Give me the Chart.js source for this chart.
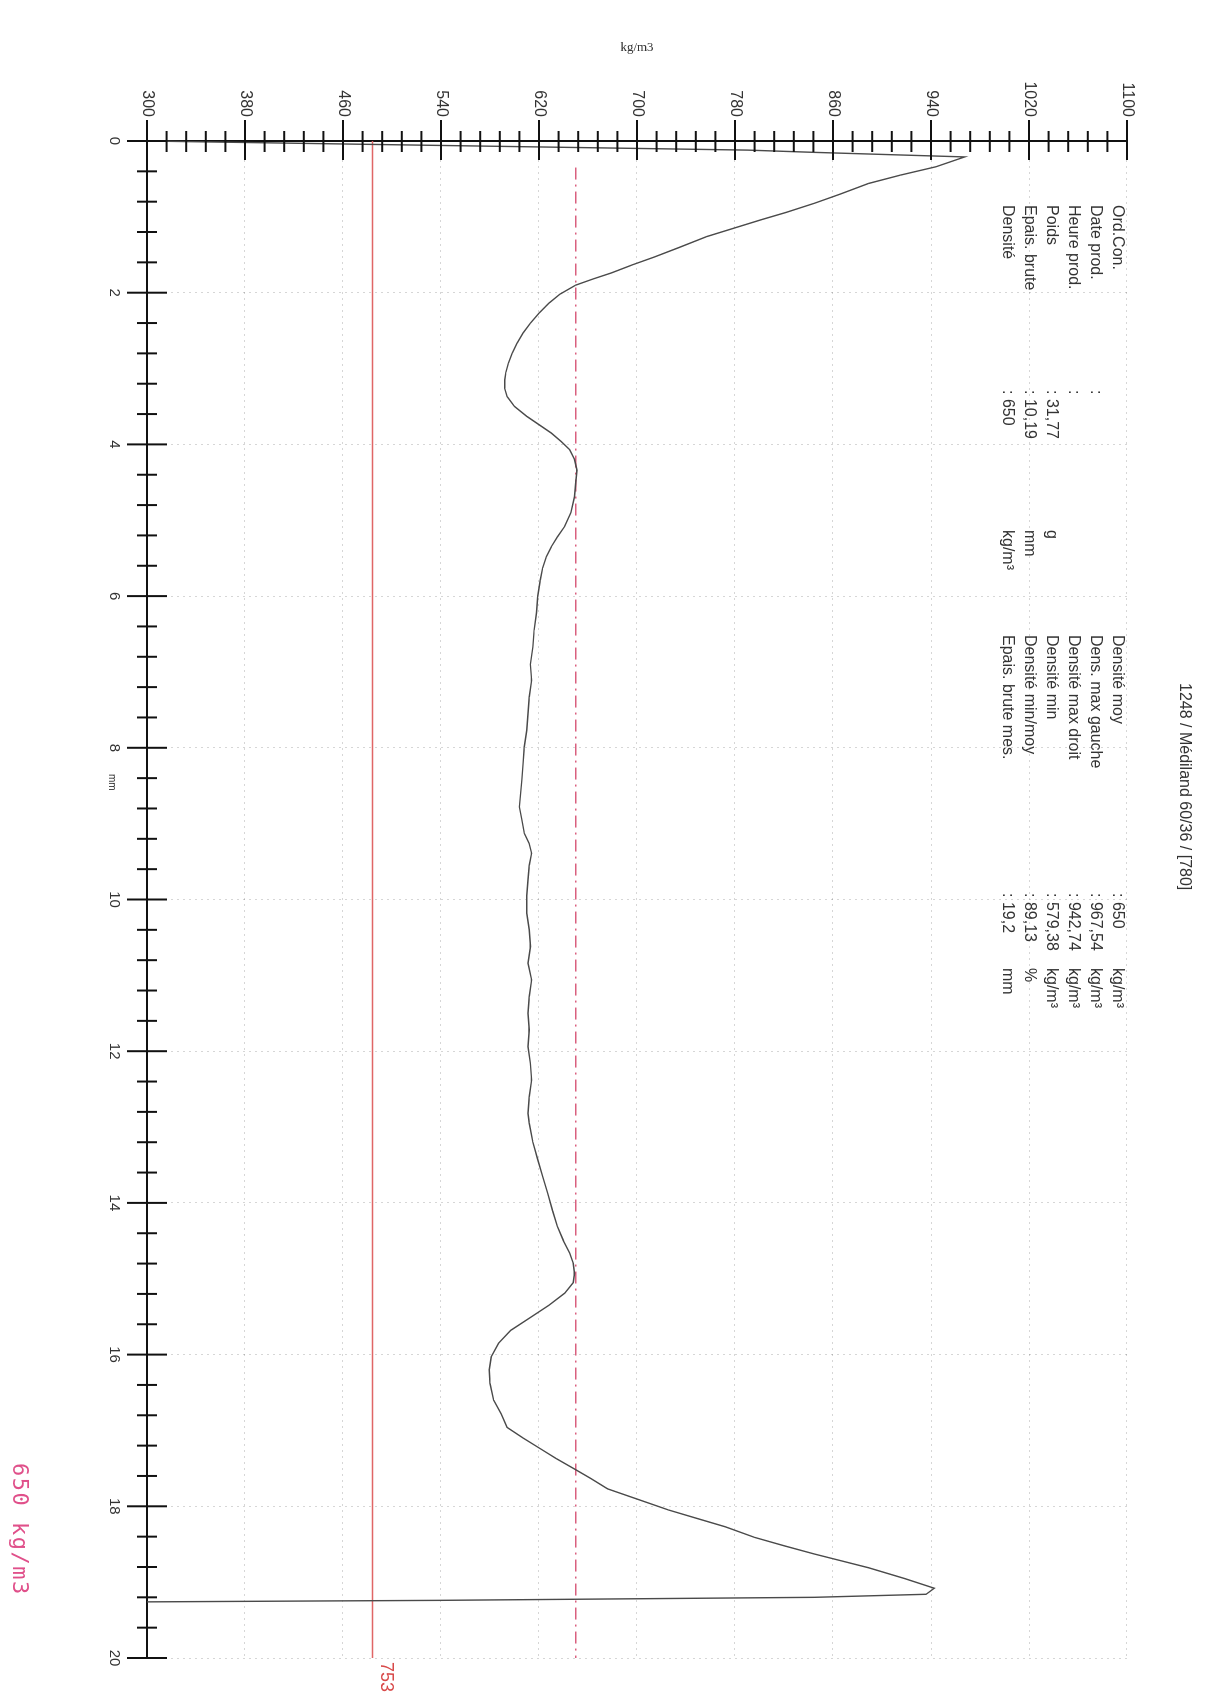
<!DOCTYPE html>
<html>
<head>
<meta charset="utf-8">
<script src="https://cdn.jsdelivr.net/npm/chart.js@4.4.1/dist/chart.umd.min.js"></script>
<style>
  html, body { margin: 0; padding: 0; background: #fff; width: 1223px; height: 1703px; overflow: hidden; }
  /* the sheet is drawn landscape and turned a quarter turn clockwise, like the scan */
  #sheet { position: absolute; left: 0; top: 0; width: 1703px; height: 1223px;
           transform-origin: 0 0; transform: translate(1223px, 0) rotate(90deg); }
  #sheet canvas { position: absolute; left: 0; top: 0; }
  .t { position: absolute; white-space: nowrap; font-family: "Liberation Sans", Arial, sans-serif;
       font-size: 16px; line-height: 16px; color: #333; }
</style>
</head>
<body>
<div id="sheet">
  <canvas id="profile" width="1703" height="1223"></canvas>
</div>
<script>
// position in the panel (mm) and density (kg/m3)
const depthMm = [0, 0.12, 0.15, 0.21, 0.34, 0.45, 0.56, 0.70, 0.82, 0.94, 1.04, 1.15, 1.26, 1.40, 1.53, 1.64, 1.74, 1.82, 1.90,
  2.02, 2.14, 2.27, 2.40, 2.53, 2.67, 2.80, 2.93, 3.05, 3.15, 3.26, 3.37, 3.50, 3.63, 3.74, 3.85, 3.96, 4.07, 4.20, 4.34,
  4.50, 4.69, 4.90, 5.08, 5.22, 5.35, 5.48, 5.63, 5.79, 6.00, 6.22, 6.45, 6.67, 6.90, 7.11, 7.33, 7.55, 7.77, 7.99,
  8.20, 8.42, 8.60, 8.78, 8.95, 9.13, 9.26, 9.39, 9.55, 9.74, 9.95, 10.18, 10.40, 10.62, 10.84, 11.06, 11.28, 11.50,
  11.72, 11.94, 12.16, 12.38, 12.60, 12.82, 12.95, 13.20, 13.43, 13.65, 13.87, 14.10, 14.31, 14.50, 14.66, 14.80, 14.93,
  15.05, 15.19, 15.35, 15.50, 15.68, 15.85, 16.03, 16.20, 16.38, 16.60, 16.78, 16.96, 17.10, 17.23, 17.37, 17.50,
  17.63, 17.77, 17.91, 18.05, 18.16, 18.27, 18.41, 18.52, 18.63, 18.72, 18.81, 18.95, 19.08, 19.16, 19.20, 19.24, 19.26];
const densityKg = [300, 790, 845, 967.5, 944, 915, 889, 866, 845, 822, 801, 779, 757, 735, 714, 695, 679, 664, 650,
  637, 628, 620, 613, 607, 602, 598, 595, 593, 592, 592, 594, 600, 610, 620, 630, 638, 645, 649, 651,
  650, 649, 646, 641, 635, 630, 626, 623, 621, 619, 618, 616, 615, 613, 614, 612, 611, 610, 608,
  607, 606, 605, 604, 606, 608, 612, 614, 612, 611, 610, 610, 612, 613, 611, 614, 612, 611,
  612, 611, 613, 614, 612, 611, 612, 615, 619, 623, 627, 631, 635, 640, 645, 648, 649,
  648, 641, 628, 614, 597, 587, 581, 579.4, 580, 583, 589, 594, 607, 620, 634, 648,
  662, 676, 701, 726, 749, 772, 796, 820, 845, 867, 889, 918, 942.7, 936, 845, 540, 300];

const meanDensity = 650;      // dash-dot line
const redLineDensity = 484;   // solid red line
const redLineLabel = '753';

const densityTicks = [300, 380, 460, 540, 620, 700, 780, 860, 940, 1020, 1100];
const depthTicks = [0, 2, 4, 6, 8, 10, 12, 14, 16, 18, 20];
const densityMinorStep = 16;
const depthMinorStep = 0.4;

const infoLabels = ['Ord.Con.', 'Date prod.', 'Heure prod.', 'Poids', 'Epais. brute', 'Densité'];
const infoValues = ['', ':', ':', ': 31,77', ': 10,19', ': 650'];
const infoUnits = ['', '', '', 'g', 'mm', 'kg/m³'];
const statLabels = ['Densité moy', 'Dens. max gauche', 'Densité max droit', 'Densité min', 'Densité min/moy', 'Epais. brute mes.'];
const statValues = [': 650', ': 967,54', ': 942,74', ': 579,38', ': 89,13', ': 19,2'];
const statUnits = ['kg/m³', 'kg/m³', 'kg/m³', 'kg/m³', '%', 'mm'];

// ticks that cross the axis lines, with minor marks between labels
const crossTicks = {
  id: 'crossTicks',
  afterDraw(chart) {
    const { ctx, chartArea, scales } = chart;
    ctx.save();
    ctx.strokeStyle = '#111';
    ctx.lineWidth = 2;
    const nD = Math.round((densityTicks[densityTicks.length - 1] - densityTicks[0]) / densityMinorStep);
    for (let i = 0; i <= nD; i++) {
      const v = densityTicks[0] + i * densityMinorStep;
      const y = scales.y.getPixelForValue(v);
      const major = i % 5 === 0;
      ctx.beginPath();
      ctx.moveTo(chartArea.left - (major ? 21 : 10), y);
      ctx.lineTo(chartArea.left + (major ? 19 : 11), y);
      ctx.stroke();
    }
    const nM = Math.round(20 / depthMinorStep);
    for (let i = 0; i <= nM; i++) {
      const x = scales.x.getPixelForValue(i * depthMinorStep);
      const major = i % 5 === 0;
      ctx.beginPath();
      ctx.moveTo(x, chartArea.bottom + (major ? 20 : 10));
      ctx.lineTo(x, chartArea.bottom - (major ? 20 : 10));
      ctx.stroke();
    }
    ctx.restore();
  }
};

const profilePoints = depthMm.map((d, i) => ({ x: d, y: densityKg[i] }));

new Chart(document.getElementById('profile'), {
  type: 'line',
  data: {
    datasets: [
      { data: profilePoints, borderColor: '#4a4a4a', borderWidth: 1.4, pointRadius: 0, tension: 0, order: 1 },
      { data: [{ x: 0, y: redLineDensity }, { x: 20, y: redLineDensity }], borderColor: '#e06666', borderWidth: 1.5, pointRadius: 0, order: 2 },
      { data: [{ x: 0.35, y: meanDensity }, { x: 20, y: meanDensity }], borderColor: '#d9607f', borderWidth: 1.5,
        borderDash: [12, 5, 2, 5], pointRadius: 0, order: 2 }
    ]
  },
  options: {
    responsive: false,
    animation: false,
    clip: false,
    layout: { padding: { top: 96, right: 45, left: 0, bottom: 0 } },
    plugins: { legend: { display: false }, tooltip: { enabled: false } },
    scales: {
      x: {
        type: 'linear', min: 0, max: 20,
        afterBuildTicks: s => { s.ticks = depthTicks.map(v => ({ value: v })); },
        afterFit: s => { s.height = 147; },
        grid: { color: 'rgba(0,0,0,0.16)', drawTicks: false },
        border: { color: '#111', width: 2, dash: [2, 4] },
        ticks: { color: '#333', font: { family: 'Liberation Sans', size: 15 }, padding: 24, maxRotation: 0,
                 callback: v => String(v) }
      },
      y: {
        type: 'linear', min: 300, max: 1100,
        afterBuildTicks: s => { s.ticks = densityTicks.map(v => ({ value: v })); },
        afterFit: s => { s.width = 141; },
        grid: { color: 'rgba(0,0,0,0.16)', drawTicks: false },
        border: { color: '#111', width: 2, dash: [2, 4] },
        ticks: { color: '#333', font: { family: 'Liberation Sans', size: 16 }, padding: 24,
                 callback: v => String(v) },
        title: { display: true, text: 'kg/m3', color: '#333', font: { family: 'Liberation Serif', size: 13 }, padding: { top: 40 } }
      }
    }
  },
  plugins: [crossTicks]
});

const sheet = document.getElementById('sheet');
function addText(txt, left, vCenter, extra) {
  const el = document.createElement('div');
  el.className = 't';
  el.textContent = txt;
  el.style.left = left + 'px';
  el.style.top = (vCenter - 8) + 'px';
  if (extra) Object.assign(el.style, extra);
  sheet.appendChild(el);
  return el;
}

const rowV = [105, 127, 149, 171, 193, 215];
infoLabels.forEach((t, i) => {
  addText(t, 205, rowV[i]);
  if (infoValues[i]) addText(infoValues[i], 390, rowV[i]);
  if (infoUnits[i]) addText(infoUnits[i], 530, rowV[i]);
});
statLabels.forEach((t, i) => {
  addText(t, 635, rowV[i]);
  addText(statValues[i], 893, rowV[i]);
  addText(statUnits[i], 968, rowV[i]);
});

addText('1248 / Médiland 60/36 / [780]', 683, 38);
addText('mm', 774, 1111, { fontSize: '10px' });
addText(redLineLabel, 1662, 836, { color: '#d84a4a', fontSize: '18px' });
addText('650 kg/m3', 1463, 1203, { color: '#e0508a', fontSize: '22px', fontFamily: '"DejaVu Sans Mono", monospace', letterSpacing: '1.5px' });
</script>
</body>
</html>
